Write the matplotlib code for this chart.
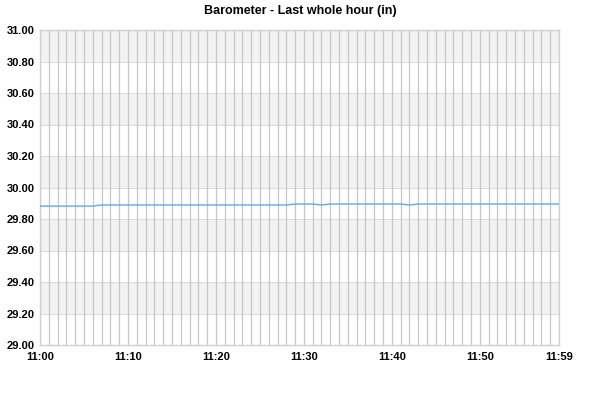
import matplotlib
matplotlib.use("Agg")
import matplotlib.pyplot as plt

plt.rcParams['font.family'] = ['Liberation Sans', 'DejaVu Sans']

minutes = list(range(60))
pressure = ([29.882] * 7 + [29.889] * 22 + [29.895] * 3 + [29.889] +
            [29.895] * 9 + [29.889] + [29.895] * 17)
y_ticks = [29.0, 29.2, 29.4, 29.6, 29.8, 30.0, 30.2, 30.4, 30.6, 30.8, 31.0]
x_tick_pos = [0, 10, 20, 30, 40, 50, 59]
x_tick_labels = ["11:00", "11:10", "11:20", "11:30", "11:40", "11:50", "11:59"]
title = "Barometer - Last whole hour (in)"

fig = plt.figure(figsize=(6, 4), dpi=100)
ax = fig.add_axes([40/600, 55/400, 519/600, 315/400])

# alternating bands
for i in range(len(y_ticks) - 1):
    if (len(y_ticks) - 2 - i) % 2 == 0:
        ax.axhspan(y_ticks[i], y_ticks[i + 1], color="#f2f2f2", zorder=0, lw=0)

for yv in y_ticks:
    ax.axhline(yv, color="#dcdcdc", lw=0.72, zorder=1)
for m in minutes:
    ax.axvline(m, color="#c6c6c6", lw=0.9, zorder=1)

ax.plot(minutes, pressure, color="#5fa8ee", lw=1, zorder=3)

ax.set_xlim(0, 59)
ax.set_ylim(29.0, 31.0)
ax.set_yticks(y_ticks)
ax.set_yticklabels([f"{v:.2f}" for v in y_ticks], fontsize=8, fontweight="bold")
ax.set_xticks(x_tick_pos)
ax.set_xticklabels(x_tick_labels, fontsize=8, fontweight="bold")
ax.tick_params(length=0, pad=5)
ax.tick_params(axis='y', pad=4)
for s in ax.spines.values():
    s.set_color("#d0d0d0")
    s.set_linewidth(1)

fig.text(0.5, 1 - 11/400, title, ha="center", va="center", fontsize=9, fontweight="bold")

fig.savefig("out.png", dpi=100, facecolor="white")
